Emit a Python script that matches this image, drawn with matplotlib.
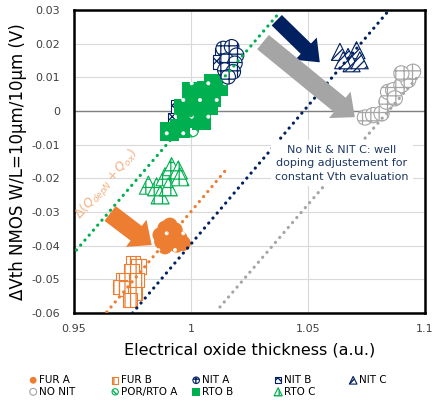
import numpy as np
import matplotlib.pyplot as plt
import matplotlib.ticker as mticker


# Vth shift versus electrical oxide thickness for the various gate oxide flows
ORANGE = '#ED7D31'
NAVY = '#002060'
GREEN = '#00B050'
GRAY = '#A5A5A5'

fur_a_x = [0.9868, 0.9889, 0.9910, 0.9932, 0.9953, 0.9917, 0.9889, 0.9939, 0.9967, 0.9875]
fur_a_y = [-0.0368, -0.0348, -0.0339, -0.0353, -0.0378, -0.0388, -0.0403, -0.0398, -0.0393, -0.0388]

fur_b_x = [0.9753, 0.9775, 0.9746, 0.9711, 0.9697, 0.9725, 0.9761, 0.9739, 0.9768]
fur_b_y = [-0.0452, -0.0462, -0.0477, -0.0502, -0.0522, -0.0527, -0.0541, -0.0561, -0.0502]

nit_a_x = [1.0138, 1.0174, 1.0195, 1.0152, 1.0188, 1.0145, 1.0181, 1.0159]
nit_a_y = [0.0186, 0.0191, 0.0166, 0.0151, 0.0142, 0.0122, 0.0117, 0.0102]

nit_b_x = [0.9946, 0.9932, 1.0131, 1.0124]
nit_b_y = [0.0013, -0.0027, 0.0166, 0.0147]

nit_c_x = [1.0637, 1.0672, 1.0708, 1.0687, 1.0722, 1.0651]
nit_c_y = [0.0176, 0.0161, 0.0181, 0.0142, 0.0151, 0.0151]

no_nit_x = [1.0744, 1.0779, 1.0815, 1.0836, 1.0843, 1.0865, 1.0900, 1.0929, 1.0950, 1.0900, 1.0872]
no_nit_y = [-0.0019, -0.0012, -0.0007, 0.0028, 0.0057, 0.0062, 0.0077, 0.0092, 0.0117, 0.0112, 0.0038]

por_rto_a_x = [1.0003]
por_rto_a_y = [-0.0056]

rto_b_x = [0.9910, 0.9953, 0.9982, 0.9967, 1.0010, 1.0003, 1.0067, 1.0095, 1.0117,
           1.0074, 1.0031, 1.0088, 1.0046]
rto_b_y = [-0.0061, -0.0051, -0.0022, 0.0008, 0.0028, 0.0057, 0.0062, 0.0082, 0.0072,
           0.0018, 0.0008, 0.0042, -0.0027]

rto_c_x = [0.9818, 0.9853, 0.9868, 0.9889, 0.9917, 0.9946, 0.9953, 0.9903]
rto_c_y = [-0.0220, -0.0225, -0.0249, -0.0195, -0.0165, -0.0175, -0.0195, -0.0225]

# dotted trend lines: (x0, x1), (y0, y1)
trend_green = ([0.951, 1.038], [-0.0413, 0.0294])
trend_orange = ([0.964, 1.016], [-0.0597, -0.0166])
trend_navy = ([0.975, 1.084], [-0.0600, 0.0294])
trend_gray = ([1.0124, 1.098], [-0.0582, 0.0110])

fig = plt.figure(figsize=(4.33, 4.05), dpi=100)
ax = fig.add_axes([0.171, 0.227, 0.81, 0.748])

for (xs, ys), c in [(trend_green, GREEN), (trend_orange, ORANGE),
                    (trend_navy, NAVY), (trend_gray, GRAY)]:
    ax.plot(xs, ys, color=c, lw=2.3, linestyle=(0, (0.05, 2.0)),
            dash_capstyle='round', zorder=4)


def cloud(x, y, marker, size, face, edge, hatch, label, lw=0.8, hlw=0.9):
    with plt.rc_context({'hatch.linewidth': hlw}):
        return ax.scatter(x, y, s=size, marker=marker, facecolor=face,
                          edgecolor=edge, hatch=hatch, linewidths=lw,
                          label=label, zorder=3)


# filled markers carry white dots: hatch follows the edge colour, so the outline is dropped
h_fur_a = cloud(fur_a_x, fur_a_y, 'o', 120, ORANGE, 'white', '.', 'FUR A', lw=0, hlw=0.4)
h_fur_b = cloud(fur_b_x, fur_b_y, 's', 110, 'white', ORANGE, '|||', 'FUR B')
h_nit_b = cloud(nit_b_x, nit_b_y, 's', 100, 'white', NAVY, 'xxx', 'NIT B')
h_por = cloud(por_rto_a_x, por_rto_a_y, 'o', 100, 'white', GREEN, '\\\\\\', 'POR/RTO A')
h_rto_b = cloud(rto_b_x, rto_b_y, 's', 190, GREEN, 'white', '.', 'RTO B', lw=0, hlw=0.4)
h_nit_a = cloud(nit_a_x, nit_a_y, 'o', 110, 'white', NAVY, '++', 'NIT A')
h_nit_c = cloud(nit_c_x, nit_c_y, '^', 150, 'white', NAVY, '////', 'NIT C')
h_no_nit = cloud(no_nit_x, no_nit_y, 'o', 120, 'white', GRAY, '++', 'NO NIT')
h_rto_c = cloud(rto_c_x, rto_c_y, '^', 170, 'white', GREEN, '++', 'RTO C')

# shift arrows
for (x0, y0), (x1, y1), c, tw, hw in [
        ((1.0367, 0.0270), (1.0551, 0.0145), NAVY, 0.75, 1.6),
        ((1.0308, 0.0205), (1.0701, -0.0018), GRAY, 0.95, 1.75),
        ((0.9654, -0.0304), (0.9832, -0.0398), ORANGE, 0.95, 1.75)]:
    ax.annotate('', xy=(x1, y1), xytext=(x0, y0),
                arrowprops=dict(arrowstyle=f'simple,head_length=1.0,head_width={hw},tail_width={tw}',
                                mutation_scale=14, color=c, shrinkA=0, shrinkB=0,
                                lw=0),
                zorder=5)

ax.text(1.0645, -0.0155, 'No Nit & NIT C: well\ndoping adjustement for\nconstant Vth evaluation',
        ha='center', va='center', fontsize=8, color='#1F3864', linespacing=1.45,
        bbox=dict(facecolor='white', edgecolor='none', pad=3), zorder=6)

ax.text(0.9642, -0.0220, r'$\Delta(Q_{depN}+Q_{ox})$', rotation=49,
        ha='center', va='center', fontsize=9, color='#F4B183', zorder=6)

ax.set_xlim(0.95, 1.1)
ax.set_ylim(-0.06, 0.03)
ax.set_xticks([0.95, 1.0, 1.05, 1.1])
ax.set_yticks(np.arange(-0.06, 0.0301, 0.01))
ax.xaxis.set_major_formatter(mticker.FuncFormatter(lambda v, _: f'{v:g}'))
ax.yaxis.set_major_formatter(mticker.FuncFormatter(lambda v, _: f'{round(v, 2):g}'))
ax.tick_params(length=0, labelsize=8, colors='#404040', pad=10)
ax.tick_params(axis='x', pad=8)
ax.grid(color='#D9D9D9', lw=0.8)
ax.set_axisbelow(True)
ax.axhline(0, color='#808080', lw=1.0, zorder=1)
for sp in ax.spines.values():
    sp.set_linewidth(1.8)
    sp.set_color('black')

ax.set_xlabel('Electrical oxide thickness (a.u.)', fontsize=11.5, labelpad=6)
ax.set_ylabel('ΔVth NMOS W/L=10µm/10µm (V)', fontsize=12, labelpad=3)

# one small legend per column so the columns sit at even spacing
columns = [[h_fur_a, h_no_nit], [h_fur_b, h_por], [h_nit_a, h_rto_b],
           [h_nit_b, h_rto_c], [h_nit_c]]
col_x = [29, 111, 192, 274, 349]
for hs, px in zip(columns, col_x):
    fig.legend(handles=hs, labels=[h.get_label() for h in hs],
               loc='upper left', bbox_to_anchor=(px / 433, 1 - 375 / 405),
               frameon=False, fontsize=7.5, markerscale=0.45, handletextpad=0.2,
               labelspacing=0.15, handlelength=0.8, borderpad=0, borderaxespad=0)

fig.savefig('out.png', dpi=100)
